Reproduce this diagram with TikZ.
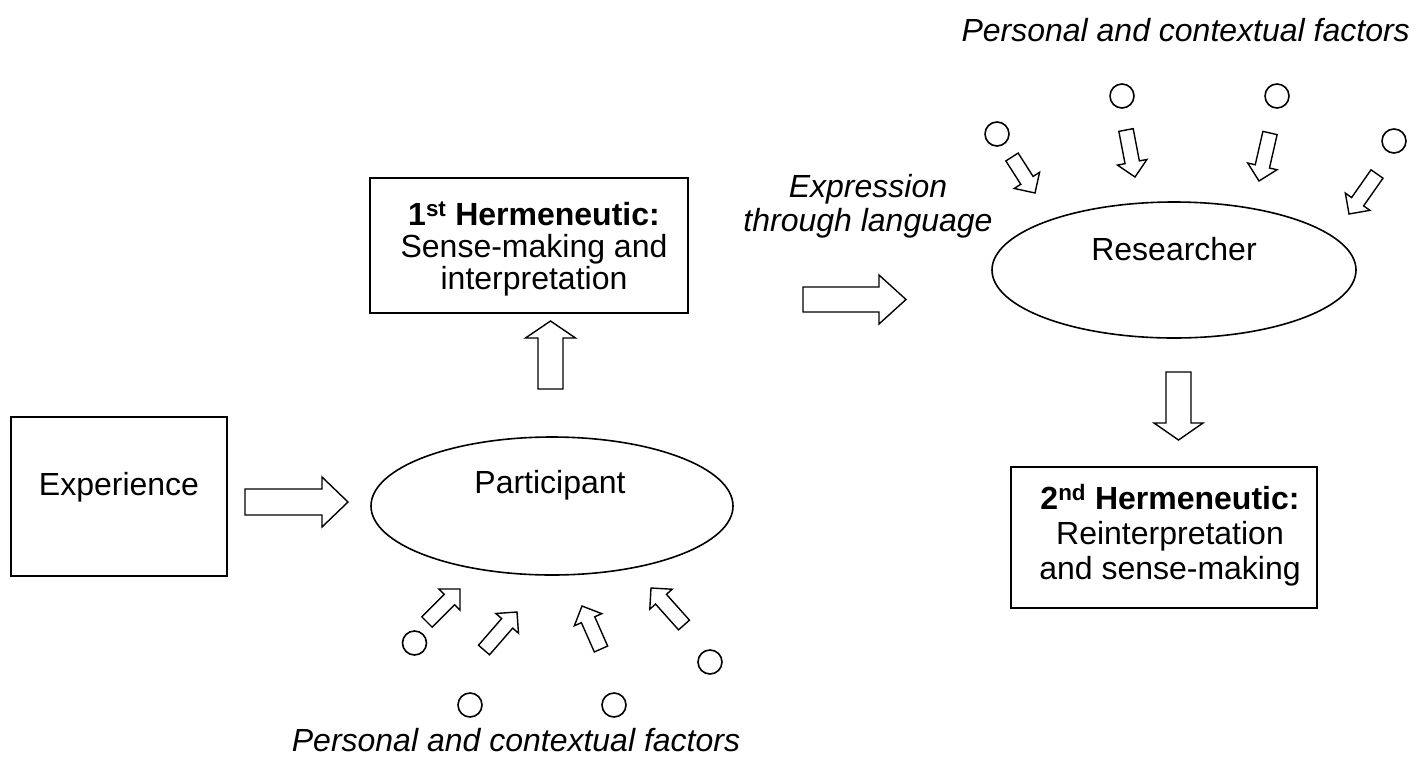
\documentclass[tikz,border=0pt]{standalone}
\usepackage{fontspec}
\setmainfont{Liberation Sans}
\usetikzlibrary{calc,shapes.geometric}

\tikzset{
  outline/.style={draw=black, line width=1.6pt},
  boxnode/.style={outline, rectangle, inner sep=0pt, align=center,
    font=\fontsize{32}{33}\selectfont},
  ovalnode/.style={outline, ellipse, inner sep=0pt},
  plaintext/.style={inner sep=0pt, align=center, font=\fontsize{32}{33}\selectfont},
  note/.style={inner sep=0pt, align=center, font=\fontsize{32}{34}\selectfont\itshape},
  dot/.style={outline, circle, minimum size=24pt, inner sep=0pt},
  fatline/.style={draw=black, line width=1.4pt, line join=miter, fill=white}
}

% hollow block arrow: #1 tail, #2 tip, #3 shaft half-width, #4 head half-width, #5 head length
\newcommand\fatarrow[5]{%
  \coordinate (fa-base) at ($(#2)!#5!(#1)$);
  \draw[fatline] ($(#1)!#3!90:(#2)$) -- ($(fa-base)!#3!90:(#2)$)
    -- ($(fa-base)!#4!90:(#2)$) -- (#2) -- ($(fa-base)!#4!-90:(#2)$)
    -- ($(fa-base)!#3!-90:(#2)$) -- ($(#1)!#3!-90:(#2)$) -- cycle;
}

\begin{document}
\begin{tikzpicture}[x=1pt, y=-1pt]
\useasboundingbox (0,0) rectangle (1415,758);

% main boxes and ovals
\node[boxnode, minimum width=216pt, minimum height=159pt] (exp) at (119,496.5) {};
\node[plaintext] (expt) at (119,487) {Experience};

\node[boxnode, minimum width=318pt, minimum height=135pt] (h1) at (529,245.5) {};
\node[plaintext, font=\fontsize{32}{32}\selectfont] (h1t) at (534,249)
  {\textbf{1\textsuperscript{st} Hermeneutic:}\\Sense-making and\\interpretation};

\node[ovalnode, minimum width=362pt, minimum height=138pt] (part) at (552,506) {};
\node[plaintext] (partt) at (550,485) {Participant};

\node[ovalnode, minimum width=364pt, minimum height=136pt] (res) at (1174,270) {};
\node[plaintext] (rest) at (1174,249) {Researcher};

\node[boxnode, minimum width=306pt, minimum height=141pt] (h2) at (1164,537.5) {};
\node[plaintext, font=\fontsize{32}{35}\selectfont] (h2t) at (1170,535)
  {\textbf{2\textsuperscript{nd} Hermeneutic:}\\Reinterpretation\\and sense-making};

% captions
\node[note] (expr) at (868,206) {Expression\\through language};
\node[note, anchor=base east] (topnote) at (1410,41) {Personal and contextual factors};
\node[note, anchor=base] (botnote) at (516,751) {Personal and contextual factors};

% large block arrows
\coordinate (e1) at (245,502);  \coordinate (e2) at (348,502);
\coordinate (u1) at (550.5,389); \coordinate (u2) at (550.5,321);
\coordinate (r1) at (803,299.5); \coordinate (r2) at (906,299.5);
\coordinate (d1) at (1178.5,372); \coordinate (d2) at (1178.5,440);
\fatarrow{e1}{e2}{13pt}{25pt}{26pt}
\fatarrow{u1}{u2}{12.5pt}{25pt}{17pt}
\fatarrow{r1}{r2}{12.5pt}{24.5pt}{27pt}
\fatarrow{d1}{d2}{12.5pt}{24.5pt}{17pt}

% factors acting on the participant
\node[dot] (pf1) at (414.5,643) {};
\node[dot] (pf2) at (470,705) {};
\node[dot] (pf3) at (614,705) {};
\node[dot] (pf4) at (710,662) {};
\coordinate (pa1) at (427,622); \coordinate (pb1) at (460,589);
\coordinate (pa2) at (484,650); \coordinate (pb2) at (517,612);
\coordinate (pa3) at (601,649); \coordinate (pb3) at (582,606);
\coordinate (pa4) at (684,625); \coordinate (pb4) at (651,588);
\fatarrow{pa1}{pb1}{7.3pt}{15pt}{15pt}
\fatarrow{pa2}{pb2}{7.3pt}{15pt}{15pt}
\fatarrow{pa3}{pb3}{7.3pt}{15pt}{15pt}
\fatarrow{pa4}{pb4}{7.3pt}{15pt}{15pt}

% factors acting on the researcher
\node[dot] (rf1) at (997,134) {};
\node[dot] (rf2) at (1122,96) {};
\node[dot] (rf3) at (1277,96) {};
\node[dot] (rf4) at (1394,141) {};
\coordinate (ra1) at (1012,157); \coordinate (rb1) at (1035,193);
\coordinate (ra2) at (1126,130); \coordinate (rb2) at (1135,177);
\coordinate (ra3) at (1270,133); \coordinate (rb3) at (1259,181);
\coordinate (ra4) at (1377,174); \coordinate (rb4) at (1349,214);
\fatarrow{ra1}{rb1}{7.3pt}{15pt}{15pt}
\fatarrow{ra2}{rb2}{7.3pt}{15pt}{15pt}
\fatarrow{ra3}{rb3}{7.3pt}{15pt}{15pt}
\fatarrow{ra4}{rb4}{7.3pt}{15pt}{15pt}
\end{tikzpicture}
\end{document}
